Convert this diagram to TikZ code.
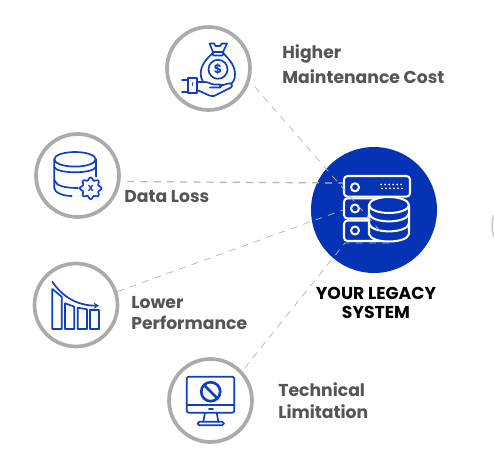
\documentclass[tikz,border=0pt]{standalone}
\usepackage{fontspec}
\setmainfont{Poppins}
\usetikzlibrary{arrows.meta, positioning}
\definecolor{hubblue}{HTML}{0433B5}
\definecolor{iconblue}{HTML}{0F3FC0}
\definecolor{ringgray}{HTML}{ABABAB}
\definecolor{dashgray}{HTML}{B5B5B5}
\definecolor{lblgray}{HTML}{555555}

\begin{document}
\begin{tikzpicture}[x=0.02cm, y=-0.02cm,
  ringbox/.style={circle, draw=ringgray, line width=2.1pt, fill=white, minimum size=1.66cm, inner sep=0pt},
  hubbox/.style={circle, fill=hubblue, minimum size=2.52cm, inner sep=0pt},
  lblbox/.style={font=\fontsize{9.8}{12.4}\selectfont\bfseries, text=lblgray, align=left, anchor=west, inner sep=0pt},
  hubtext/.style={font=\fontsize{9.8}{11.3}\selectfont\bfseries, text=black, align=center, inner sep=0pt},
  conn/.style={dashgray, line width=0.4pt, dash pattern=on 4pt off 3.5pt},
  icon/.style={iconblue, line width=0.95pt, line join=round, line cap=round},
  iconw/.style={white, line width=1.15pt, line join=round, line cap=round}
]

% Background
\fill[white] (0,0) rectangle (494,466);
\useasboundingbox (0,0) rectangle (494,466);

% Circles
\node[ringbox] (cost) at (208.5,68.5) {};
\node[ringbox] (loss) at (77.5,175.5) {};
\node[ringbox] (perf) at (76,305) {};
\node[ringbox] (limit) at (210.5,400.5) {};
\node[hubbox] (hub) at (374,210) {};

% Next circle, cut by the page
\draw[ringgray!60, line width=1pt] (494,215) .. controls (491.5,222) and (491.5,230) .. (494,237);

% Money bag
\draw[icon] (213,53) .. controls (205,60) and (200.7,66) .. (200.7,74) .. controls (200.7,80) and (204,84) .. (208,85)
  -- (228,85) .. controls (233,84) and (235,80) .. (235,74) .. controls (235,66) and (230,60) .. (223,53);
\draw[icon] (213,52) -- (209.5,43.5) -- (214,43.5) -- (215.5,46) -- (220,46) -- (222,43.5) -- (227,43.5) -- (223,52) -- cycle;
\draw[icon, rounded corners=1pt] (212,52) rectangle (224,55.5);
\draw[icon] (218,69.3) circle[radius=9.5];
\node[font=\fontsize{7}{7}\selectfont\bfseries, text=iconblue, inner sep=0pt] (dollar) at (218,69.3) {\$};
\draw[icon, fill=white] (197,82) -- (205,82) .. controls (209,82) and (210,84) .. (214,84.5) -- (220,84.5)
  .. controls (222,84.5) and (222,87.5) .. (220,87.5) -- (210,87.5) (220,86) -- (228,83.5) .. controls (232,82.5) and (233,86) .. (231,87.5)
  -- (214,96) .. controls (210,97) and (205,93) .. (197,90);
\draw[icon] (188,78) rectangle (197,93) (192.5,83) -- (192.5,85);
\draw[icon] (182,80) -- (188,80) (182,92) -- (188,92);

% Database with gear
\draw[icon] (75,159.3) ellipse[x radius=20.7, y radius=7.3];
\draw[icon] (54.3,159.3) -- (54.3,188) .. controls (54.3,192) and (62,196) .. (71.7,196);
\draw[icon] (95.7,159.3) -- (95.7,176.7);
\draw[icon] (54.3,167) .. controls (56,174) and (94,174) .. (95.7,167);
\draw[icon] (54.3,180) .. controls (56,186) and (65,188) .. (78,188);
\draw[icon, fill=white, shift={(90.7,188.3)}] plot[domain=0:360, samples=65, smooth] (\x:{9.5+1.3*cos(8*\x)});
\node[font=\fontsize{5}{5}\selectfont\bfseries, text=iconblue, inner sep=0pt] (gearx) at (90.7,188.3) {X};

% Falling bars
\draw[icon] (52.3,289) -- (61.7,296.7) -- (61.7,329) -- (52.3,329) -- cycle;
\draw[icon] (65,303.3) -- (74.3,306.7) -- (74.3,329) -- (65,329) -- cycle;
\draw[icon] (77.7,307.7) -- (87,309.3) -- (87,329) -- (77.7,329) -- cycle;
\draw[icon] (90,310) -- (99.3,310) -- (99.3,329) -- (90,329) -- cycle;
\draw[icon, -{Stealth[length=3pt, width=3.5pt]}] (52.3,281.7) .. controls (62,296) and (76,305.5) .. (99,305.7);

% Monitor
\draw[icon, rounded corners=1.2pt] (186.7,376.7) rectangle (234.3,412.7);
\draw[icon] (186.7,405) -- (234.3,405) (209,408.7) -- (213,408.7);
\draw[icon] (205,412.7) -- (203.3,421.7) (216.7,412.7) -- (218.3,421.7);
\draw[icon, rounded corners=1pt] (197.7,421.7) rectangle (224,425.3);
\draw[iconblue, line width=1.5pt] (210.7,391.7) circle[radius=9.5] (204,385) -- (217.4,398.4);

% Server on the hub
\draw[iconw, rounded corners=2pt] (344,176) rectangle (410,196.7);
\draw[iconw, rounded corners=2pt] (385,198.3) -- (344,198.3) -- (344,218.5) -- (385,218.5);
\draw[iconw, rounded corners=2pt] (385,220.5) -- (344,220.5) -- (344,241) -- (385,241);
\draw[iconw] (355,187.3) circle[radius=4] (355,208.5) circle[radius=4] (355,230.5) circle[radius=4];
\foreach \i in {0,...,5} {
  \fill[white] ({381+\i*4},184.5) circle[radius=1];
  \fill[white] ({382+\i*4},188.3) circle[radius=1];
}
\draw[iconw, fill=hubblue] (369,205) -- (369,234) .. controls (371,244) and (407,244) .. (409,234) -- (409,205) -- cycle;
\draw[iconw, fill=hubblue] (389,205) ellipse[x radius=20, y radius=8];
\draw[iconw] (369,213.5) .. controls (371,224) and (407,224) .. (409,213.5);
\draw[iconw] (369,223.5) .. controls (371,234) and (407,234) .. (409,223.5);

% Connections
\coordinate (hubtop) at (381,232);
\coordinate (hubleft) at (343,183);
\coordinate (hublow) at (343,210);
\coordinate (hubbend) at (345,243);
\coordinate (hubend) at (390,243);
\draw[conn, shorten <=4pt] (cost.-17) -- (hubtop);
\draw[conn, line width=0.7pt, shorten <=4pt] (loss.-8) -- (hubleft);
\draw[conn] (perf.18) -- (hublow);
\draw[conn, shorten <=2pt] (limit.43) -- (hubbend) -- (hubend);

% Labels
\node[lblbox, font=\fontsize{9.8}{14}\selectfont\bfseries] (costtext) at (282,64) {Higher\\Maintenance Cost};
\node[lblbox] (losstext) at (124,197) {Data Loss};
\node[lblbox] (perftext) at (131,313) {Lower\\Performance};
\node[lblbox] (limittext) at (278,401) {Technical\\Limitation};
\node[hubtext] (hubtext) at (376,303) {YOUR LEGACY\\SYSTEM};

\end{tikzpicture}
\end{document}
